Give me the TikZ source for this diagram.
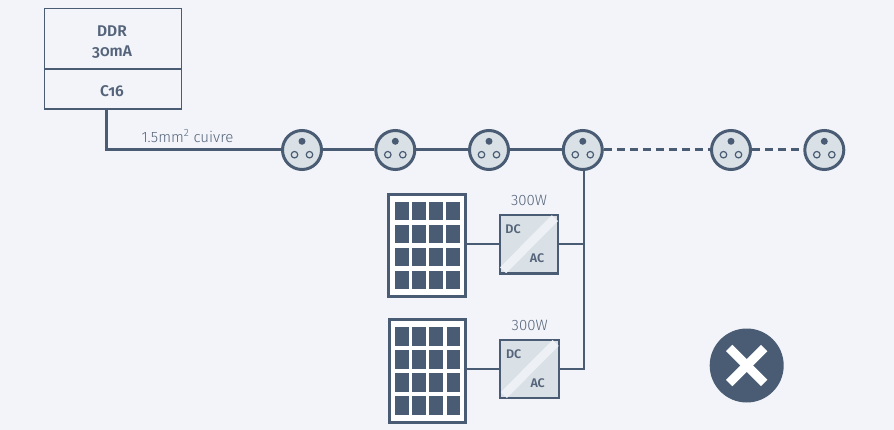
\documentclass[tikz,border=0pt]{standalone}
\usepackage{fontspec}
\setmainfont{Fira Sans}[UprightFont=* Light,BoldFont=* SemiBold,Numbers=OldStyle]
\newfontfamily\lightfont{Fira Sans Light}[Numbers=Lining]
\definecolor{bgc}{HTML}{F2F4F9}
\definecolor{dark}{HTML}{4A5C74}
\definecolor{label}{HTML}{55647A}
\definecolor{face}{HTML}{DAE1E6}
\definecolor{stripe}{HTML}{EDF0F4}
\tikzset{
  x=1pt,y=-1pt,
  wire/.style={draw=dark,line width=3pt},
  thinwire/.style={draw=dark,line width=2.4pt},
  dashwire/.style={wire,dash pattern=on 8pt off 5pt},
  socket/.style={circle,draw=dark,fill=face,line width=3pt,minimum size=39pt,inner sep=0pt},
  pin/.style={circle,fill=dark,minimum size=7pt,inner sep=0pt},
  hole/.style={circle,draw=dark,line width=1.2pt,minimum size=6.5pt,inner sep=0pt},
  breaker/.style={rectangle,draw=dark,line width=1.3pt,minimum width=137pt,inner sep=0pt},
  brklabel/.style={align=center,font=\bfseries\fontsize{15.5}{20}\selectfont,text=label,inner sep=0pt},
  panel/.style={rectangle,draw=dark,fill=white,line width=3pt,minimum width=76.4pt,minimum height=102.4pt},
  cell/.style={rectangle,fill=dark,minimum width=13.6pt,minimum height=18.6pt,inner sep=0pt},
  inverter/.style={rectangle,draw=dark,line width=1.4pt,fill=face,minimum size=58pt,inner sep=0pt},
  power/.style={font=\lightfont\fontsize{15}{17}\selectfont,text=label,inner sep=0pt},
  kind/.style={font=\bfseries\fontsize{12.5}{14}\selectfont,text=label,inner sep=0pt},
}
\newcommand{\socketat}[2]{%
  \node[socket] (#1) at (#2,150) {};
  \node[pin] (#1pin) at (#2,141.3) {};
  \node[hole] (#1l) at (#2-7.5,154.7) {};
  \node[hole] (#1r) at (#2+7.5,154.7) {};
}
\newcommand{\pvpanel}[3]{% name, cx, cy
  \node[panel] (#1) at (#2,#3) {};
  \foreach \cx in {-25.3,-8.3,8.7,25.8}
    \foreach \cy in {-34.5,-11.5,11.5,34.5}
      \node[cell] at (#2+\cx,#3+\cy) {};
}
\newcommand{\inverterat}[3]{% name, cx, cy
  \node[inverter] (#1) at (#2,#3) {};
  \fill[stripe] (#2-29,#3+23.2) -- (#2-22.8,#3+29) -- (#2+29,#3-23.2) -- (#2+22.8,#3-29) -- cycle;
  \draw[dark,line width=1.4pt] (#1.south west) rectangle (#1.north east);
  \node[kind] (#1dc) at (#2-16,#3-15) {DC};
  \node[kind] (#1ac) at (#2+8,#3+14) {AC};
  \node[power] (#1w) at (#2,#3-43.5) {300W};
}
\begin{document}
\begin{tikzpicture}
\useasboundingbox (0,0) rectangle (894,430);
\fill[bgc] (0,0) rectangle (894,430);
% breaker
\node[breaker,minimum height=60.3pt] (ddr) at (113.2,39) {};
\node[breaker,minimum height=39.7pt] (c16) at (113.2,89.2) {};
\node[brklabel] (ddrtext) at (112,42) {DDR\\30mA};
\node[brklabel] (c16text) at (112,91) {C16};
\coordinate (cablestart) at (106.7,109);
\coordinate (cableturn) at (106.7,150);
\node[power] (cable) at (187.5,136) {1.5mm\textsuperscript{2} cuivre};
% sockets
\socketat{sa}{302}
\socketat{sb}{395.3}
\socketat{sc}{489}
\socketat{sd}{582.8}
\socketat{se}{731}
\socketat{sf}{824.3}
\draw[wire] (cablestart) -- (cableturn) -- (sa);
\draw[wire] (sa) -- (sb);
\draw[wire] (sb) -- (sc);
\draw[wire] (sc) -- (sd);
\draw[dashwire] (sd) -- (se);
\draw[dashwire] (se) -- (sf);
% panels and inverters
\pvpanel{pva}{427}{245.5}
\pvpanel{pvb}{427.5}{371}
\inverterat{inva}{529}{244.2}
\inverterat{invb}{529.7}{369}
\coordinate (joina) at (584,244.2);
\coordinate (joinb) at (584,369);
\draw[thinwire] (pva.east |- inva.west) -- (inva.west);
\draw[thinwire] (pvb.east |- invb.west) -- (invb.west);
\draw[thinwire] (inva.east) -- (joina);
\draw[thinwire] (invb.east) -- (joinb) -- (joina) -- (sd.south -| joina);
% cross mark
\node[circle,fill=dark,minimum size=74pt,inner sep=0pt] (nok) at (746.7,365.5) {};
\coordinate (ca) at (729.2,348);
\coordinate (cb) at (764.2,383);
\coordinate (cc) at (764.2,348);
\coordinate (cd) at (729.2,383);
\draw[white,line width=9pt] (ca) -- (cb);
\draw[white,line width=9pt] (cc) -- (cd);
\end{tikzpicture}
\end{document}
